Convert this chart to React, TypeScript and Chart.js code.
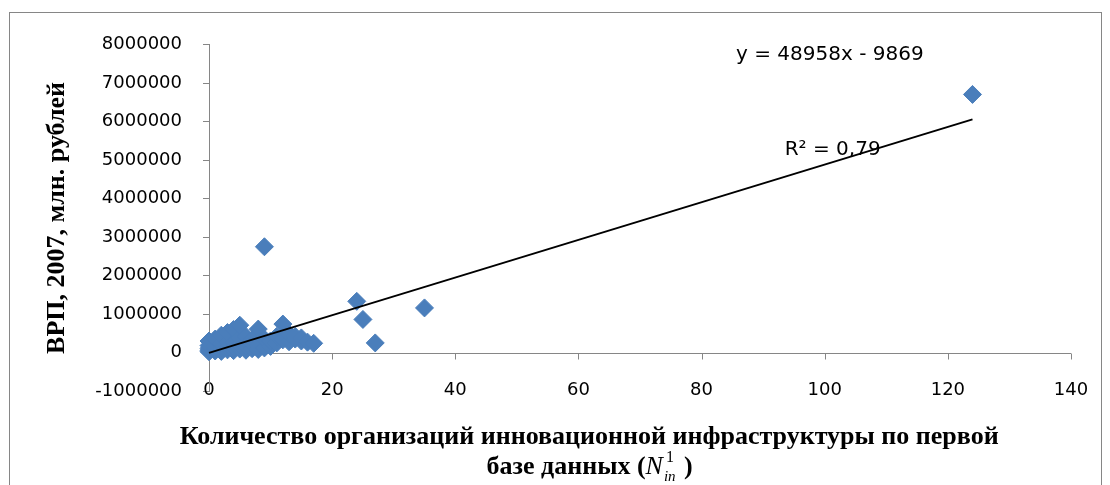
import React, { useEffect, useRef } from 'react';
import { Chart, registerables } from 'chart.js';

Chart.register(...registerables);

// Количество организаций инновационной инфраструктуры (x) и ВРП 2007 (y)
const orgCounts = [
  124, 9, 24, 25, 35, 27,
  0, 0, 0, 0, 0,
  1, 1, 1, 1,
  2, 2, 2, 2,
  3, 3, 3, 3,
  4, 4, 4, 4,
  5, 5, 5, 5,
  6, 6, 6,
  7, 7, 7,
  8, 8, 8,
  9, 9,
  10, 10,
  11, 11,
  12, 12,
  13, 13,
  14, 14,
  15, 15,
  16,
  17,
];
const grpValues = [
  6710000, 2750000, 1330000, 860000, 1160000, 250000,
  20000, 60000, 110000, 180000, 300000,
  40000, 90000, 160000, 350000,
  30000, 120000, 230000, 450000,
  70000, 150000, 280000, 520000,
  50000, 130000, 260000, 600000,
  90000, 200000, 380000, 710000,
  60000, 170000, 420000,
  100000, 240000, 330000,
  80000, 190000, 610000,
  120000, 350000,
  160000, 300000,
  250000, 420000,
  330000, 740000,
  280000, 480000,
  350000, 420000,
  300000, 380000,
  270000,
  240000,
];

const TREND_SLOPE = 48958;
const TREND_INTERCEPT = -9869;
const EQUATION_TEXT = 'y = 48958x - 9869';
const R2_TEXT = 'R² = 0,79';

const X_MIN = 0;
const X_MAX = 140;
const X_STEP = 20;
const Y_MIN = -1000000;
const Y_MAX = 8000000;
const Y_STEP = 1000000;

const Y_TITLE = 'ВРП, 2007, млн. рублей';
const X_TITLE_LINE1 = 'Количество организаций инновационной инфраструктуры по первой';
const X_TITLE_LINE2 = 'базе данных (';
const X_TITLE_SYMBOL = 'N';
const X_TITLE_SUP = '1';
const X_TITLE_SUB = 'in';
const X_TITLE_CLOSE = ' )';

const AXIS_COLOR = '#868686';
const POINT_COLOR = '#4a7ebb';
const SANS = '"DejaVu Sans"';
const SERIF = '"Liberation Serif"';

const extrasPlugin = {
  id: 'excelExtras',
  beforeDatasetsDraw(chart: any) {
    const { ctx, chartArea, scales } = chart;
    const xs = scales.x;
    const ys = scales.y;
    const y0 = Math.round(ys.getPixelForValue(0)) + 0.5;
    ctx.save();
    ctx.strokeStyle = AXIS_COLOR;
    ctx.lineWidth = 1;
    ctx.beginPath();
    ctx.moveTo(chartArea.left, y0);
    ctx.lineTo(chartArea.right, y0);
    for (const t of xs.ticks) {
      const px = Math.round(xs.getPixelForValue(t.value)) + 0.5;
      ctx.moveTo(px, y0);
      ctx.lineTo(px, y0 + 6);
    }
    ctx.stroke();
    ctx.restore();
  },
  afterDraw(chart: any) {
    const { ctx, chartArea, scales } = chart;
    const xs = scales.x;
    const ys = scales.y;
    ctx.save();
    ctx.fillStyle = '#000';
    ctx.textBaseline = 'middle';
    ctx.textAlign = 'left';
    ctx.font = `20px ${SANS}`;
    ctx.fillText(EQUATION_TEXT, xs.getPixelForValue(85.6), ys.getPixelForValue(7740000));
    ctx.fillText(R2_TEXT, xs.getPixelForValue(93.5), ys.getPixelForValue(5280000));

    // axis title (two lines)
    const cx = chartArea.left + chartArea.width * 0.441;
    const y1 = chartArea.bottom + 46;
    const y2 = y1 + 30;
    const mainFont = `bold 26px ${SERIF}`;
    ctx.textAlign = 'center';
    ctx.font = mainFont;
    ctx.fillText(X_TITLE_LINE1, cx, y1);

    ctx.textAlign = 'left';
    const symFont = `italic 26px ${SERIF}`;
    const supFont = `16px ${SERIF}`;
    const subFont = `italic 15px ${SERIF}`;
    ctx.font = mainFont;
    const w1 = ctx.measureText(X_TITLE_LINE2).width;
    const w4 = ctx.measureText(X_TITLE_CLOSE).width;
    ctx.font = symFont;
    const w2 = ctx.measureText(X_TITLE_SYMBOL).width;
    ctx.font = supFont;
    const wSup = ctx.measureText(X_TITLE_SUP).width;
    ctx.font = subFont;
    const wSub = ctx.measureText(X_TITLE_SUB).width;
    const w3 = Math.max(wSup, wSub) + 2;
    let x = cx - (w1 + w2 + w3 + w4) / 2;
    ctx.font = mainFont;
    ctx.fillText(X_TITLE_LINE2, x, y2);
    x += w1;
    ctx.font = symFont;
    ctx.fillText(X_TITLE_SYMBOL, x, y2);
    x += w2 + 1;
    ctx.font = supFont;
    ctx.fillText(X_TITLE_SUP, x + 2, y2 - 9);
    ctx.font = subFont;
    ctx.fillText(X_TITLE_SUB, x, y2 + 10);
    x += w3;
    ctx.font = mainFont;
    ctx.fillText(X_TITLE_CLOSE, x, y2);
    ctx.restore();
  },
};

export default function App() {
  const canvasRef = useRef<HTMLCanvasElement | null>(null);

  useEffect(() => {
    document.documentElement.style.overflow = 'hidden';
    document.body.style.overflow = 'hidden';
    const canvas = canvasRef.current;
    if (!canvas) return;

    const points = orgCounts.map((x, i) => ({ x, y: grpValues[i] }));
    const xLo = Math.min(...orgCounts);
    const xHi = Math.max(...orgCounts);
    const trend = [
      { x: xLo, y: TREND_SLOPE * xLo + TREND_INTERCEPT },
      { x: xHi, y: TREND_SLOPE * xHi + TREND_INTERCEPT },
    ];

    const chart = new Chart(canvas, {
      type: 'scatter',
      data: {
        datasets: [
          {
            label: 'trend',
            data: trend,
            showLine: true,
            borderColor: '#000',
            borderWidth: 2,
            pointRadius: 0,
            clip: false,
            order: 0,
          } as any,
          {
            label: 'ВРП',
            data: points,
            pointStyle: 'rectRot',
            pointRadius: 9,
            backgroundColor: POINT_COLOR,
            borderColor: POINT_COLOR,
            borderWidth: 1,
            clip: false,
            order: 1,
          } as any,
        ],
      },
      options: {
        animation: false,
        responsive: true,
        maintainAspectRatio: false,
        layout: { padding: { top: 30, right: 30, bottom: 22, left: 0 } },
        plugins: {
          legend: { display: false },
          tooltip: { enabled: false },
          title: { display: false },
        },
        scales: {
          x: {
            type: 'linear',
            position: 'bottom',
            min: X_MIN,
            max: X_MAX,
            ticks: {
              stepSize: X_STEP,
              mirror: true,
              padding: -10,
              color: '#000',
              font: { family: 'DejaVu Sans', size: 18 },
              maxRotation: 0,
              autoSkip: false,
            },
            grid: { display: false, drawTicks: false },
            border: { display: false },
            afterFit: (s: any) => {
              s.height = 80;
            },
          },
          y: {
            type: 'linear',
            min: Y_MIN,
            max: Y_MAX,
            ticks: {
              stepSize: Y_STEP,
              padding: 21,
              color: '#000',
              font: { family: 'DejaVu Sans', size: 18 },
              callback: (v: any) => String(v),
            },
            grid: { drawOnChartArea: false, drawTicks: true, tickLength: 6, color: AXIS_COLOR },
            border: { display: true, color: AXIS_COLOR, width: 1 },
            title: {
              display: true,
              text: Y_TITLE,
              color: '#000',
              font: { family: 'Liberation Serif', size: 26, weight: 'bold' },
              padding: { top: 32, bottom: 0 },
            },
            afterFit: (s: any) => {
              s.width = 199;
            },
          },
        },
      } as any,
      plugins: [extrasPlugin],
    });

    return () => chart.destroy();
  }, []);

  return (
    <div
      style={{
        position: 'relative',
        top: 4,
        left: 1,
        width: 1091,
        height: 480,
        border: `1px solid ${AXIS_COLOR}`,
        background: '#fff',
      }}
    >
      <canvas ref={canvasRef} />
    </div>
  );
}
